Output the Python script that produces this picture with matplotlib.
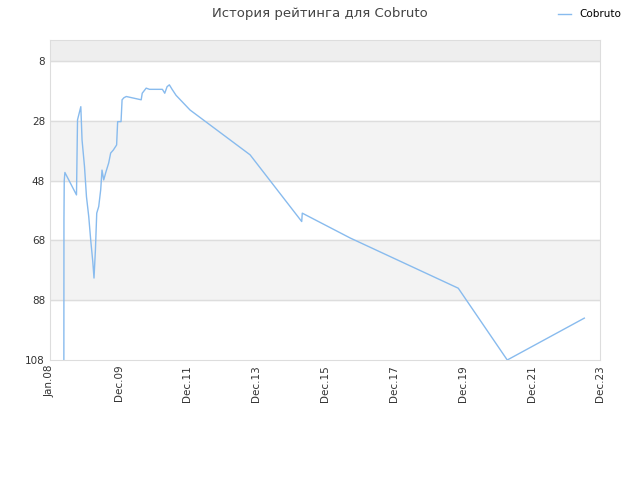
import pandas as pd
import matplotlib.pyplot as plt

# rating history (rank, lower is better)
dates = ["2008-05-28", "2008-05-29", "2008-06-01", "2008-06-08", "2008-10-09", "2008-10-20",
         "2008-11-24", "2008-12-07", "2009-01-02", "2009-01-23", "2009-02-16", "2009-03-09",
         "2009-03-31", "2009-04-13", "2009-04-28", "2009-05-12", "2009-06-02", "2009-06-23",
         "2009-07-07", "2009-07-25", "2009-08-15", "2009-09-16", "2009-10-07", "2009-11-04",
         "2009-12-09", "2009-12-20", "2010-01-25", "2010-02-05", "2010-02-25", "2010-03-22",
         "2010-08-27", "2010-09-07",
         "2010-10-19", "2010-11-23", "2011-04-09", "2011-05-04", "2011-05-29", "2011-06-22",
         "2011-07-21", "2011-09-01", "2012-01-27", "2013-10-26", "2015-04-27", "2015-05-03",
         "2016-09-22", "2019-11-14", "2021-04-17", "2023-07-14"]
ranks = [108, 61, 48, 45.3, 52.8, 27.7, 23.3, 34.4, 43.3, 53.4, 60, 67.9,
         75.1, 80.6, 71.2, 58.9, 56.7, 51.1, 44.5, 47.8, 45.4, 42.1, 38.8, 37.8,
         36.1, 28.3, 28.3, 21, 20.3, 19.9,
         21, 18.8, 17.1, 17.5, 17.5, 18.8, 16.6, 16,
         17.5, 19.5, 24.4, 39.4, 61.7, 58.9,
         67.2, 84, 108, 94]

tick_dates = ["2008-01-01", "2009-12-31", "2011-12-31", "2013-12-31", "2015-12-31",
              "2017-12-31", "2019-12-31", "2021-12-31", "2023-12-31"]
tick_labels = ["Jan.08", "Dec.09", "Dec.11", "Dec.13", "Dec.15",
               "Dec.17", "Dec.19", "Dec.21", "Dec.23"]
y_ticks = [8, 28, 48, 68, 88, 108]

df = pd.DataFrame({"date": pd.to_datetime(dates), "rank": ranks})

fig = plt.figure(figsize=(6.4, 4.8), dpi=100)
ax = fig.add_axes([0.078, 0.25, 0.86, 0.6667])

# alternating background bands
ax.axhspan(1, 8, color="#eeeeee", zorder=0)
for lo in [28, 68]:
    ax.axhspan(lo, lo + 20, color="#f3f3f3", zorder=0)
for y in y_ticks[:-1]:
    ax.axhline(y, color="#dddddd", linewidth=1, zorder=1)

ax.plot(df["date"], df["rank"], color="#88bbee", linewidth=1, label="Cobruto", zorder=2)

ax.set_ylim(108, 1)
ax.set_yticks(y_ticks)
ax.set_xlim(pd.Timestamp(tick_dates[0]), pd.Timestamp(tick_dates[-1]))
ax.set_xticks(pd.to_datetime(tick_dates))
ax.set_xticklabels(tick_labels, rotation=90)
ax.tick_params(labelsize=7.5, colors="#333333", length=0)
for s in ax.spines.values():
    s.set_color("#dddddd")

fig.suptitle("История рейтинга для Cobruto", y=0.985, fontsize=9.5, color="#444444")
fig.legend(loc="upper right", bbox_to_anchor=(0.985, 1.0), frameon=False, fontsize=7.5,
           handlelength=1.2)

plt.savefig("out.png", dpi=100)
